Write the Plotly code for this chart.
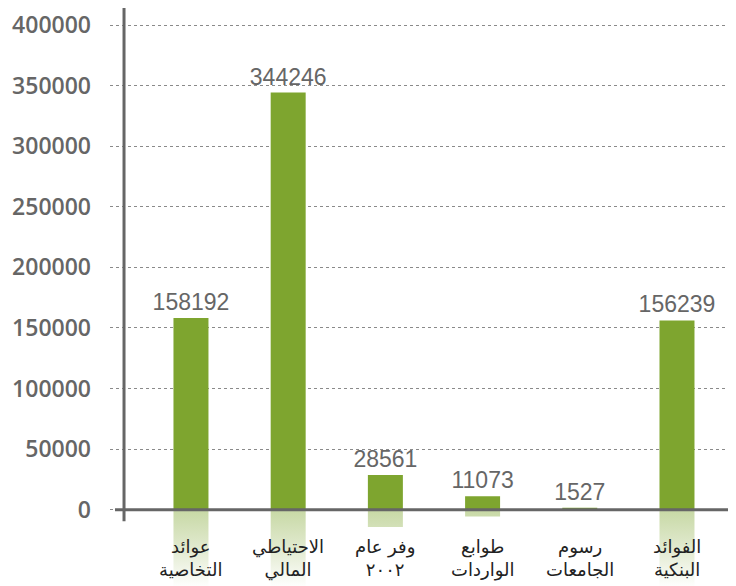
import plotly.graph_objects as go

categories = ["عوائد<br>التخاصية", "الاحتياطي<br>المالي", "وفر عام<br>٢٠٠٢",
              "طوابع<br>الواردات", "رسوم<br>الجامعات", "الفوائد<br>البنكية"]
values = [158192, 344246, 28561, 11073, 1527, 156239]
tick_values = [0, 50000, 100000, 150000, 200000, 250000, 300000, 350000, 400000]
tick_labels = [str(v) for v in tick_values]

GREEN = "#7EA52F"
GRAY = "#666666"
BAR_W = 0.36
FADE = -62000  # reflection fade length in axis units
pos = list(range(len(values)))

fig = go.Figure()

# reflections under the axis
for i, v in zip(pos, values):
    r = -0.5 * v
    fig.add_trace(go.Scatter(
        x=[i - BAR_W / 2, i + BAR_W / 2, i + BAR_W / 2, i - BAR_W / 2, i - BAR_W / 2],
        y=[0, 0, r, r, 0],
        mode="lines", line=dict(width=0), fill="toself",
        fillgradient=dict(type="vertical", start=FADE, stop=0,
                          colorscale=[[0, "rgba(126,165,47,0)"], [0.5, "rgba(126,165,47,0.22)"],
                                      [1, "rgba(126,165,47,0.42)"]]),
        hoverinfo="skip", showlegend=False))

fig.add_trace(go.Bar(
    x=pos, y=values, width=BAR_W, marker=dict(color=GREEN, line=dict(width=0)),
    text=[str(v) for v in values], textposition="outside", cliponaxis=False,
    constraintext="none",
    textfont=dict(family="Liberation Sans, Arial, sans-serif", size=23, color=GRAY),
    showlegend=False))

for i, c in zip(pos, categories):
    fig.add_annotation(x=i, y=-40000, xref="x", yref="y", text=c, showarrow=False,
                       align="center", yanchor="middle",
                       font=dict(family="DejaVu Sans, sans-serif", size=18, color="#222222"))

# axis lines
fig.add_shape(type="line", xref="paper", yref="y", x0=0.008, x1=1, y0=0, y1=0,
              line=dict(color=GRAY, width=3))
fig.add_shape(type="line", xref="paper", yref="paper", x0=0.0224, x1=0.0224, y0=0.1125, y1=1.01,
              line=dict(color=GRAY, width=3))

fig.update_layout(
    width=728, height=578, autosize=False,
    margin=dict(l=102, r=0, t=0, b=0),
    plot_bgcolor="white", paper_bgcolor="white",
    xaxis=dict(range=[-0.833, 5.607], showgrid=False, zeroline=False, showticklabels=False,
               showline=False, fixedrange=True),
    yaxis=dict(range=[-62970, 411580], tickvals=tick_values, ticktext=tick_labels,
               showgrid=True, gridcolor="#8a8a8a", griddash="dot", gridwidth=1,
               zeroline=False, showline=False, ticks="", ticklabelstandoff=18,
               ticklabeloverflow="allow",
               tickfont=dict(family="Open Sans, sans-serif", size=23, color=GRAY, weight=600)),
)

fig.write_html("out.html")
